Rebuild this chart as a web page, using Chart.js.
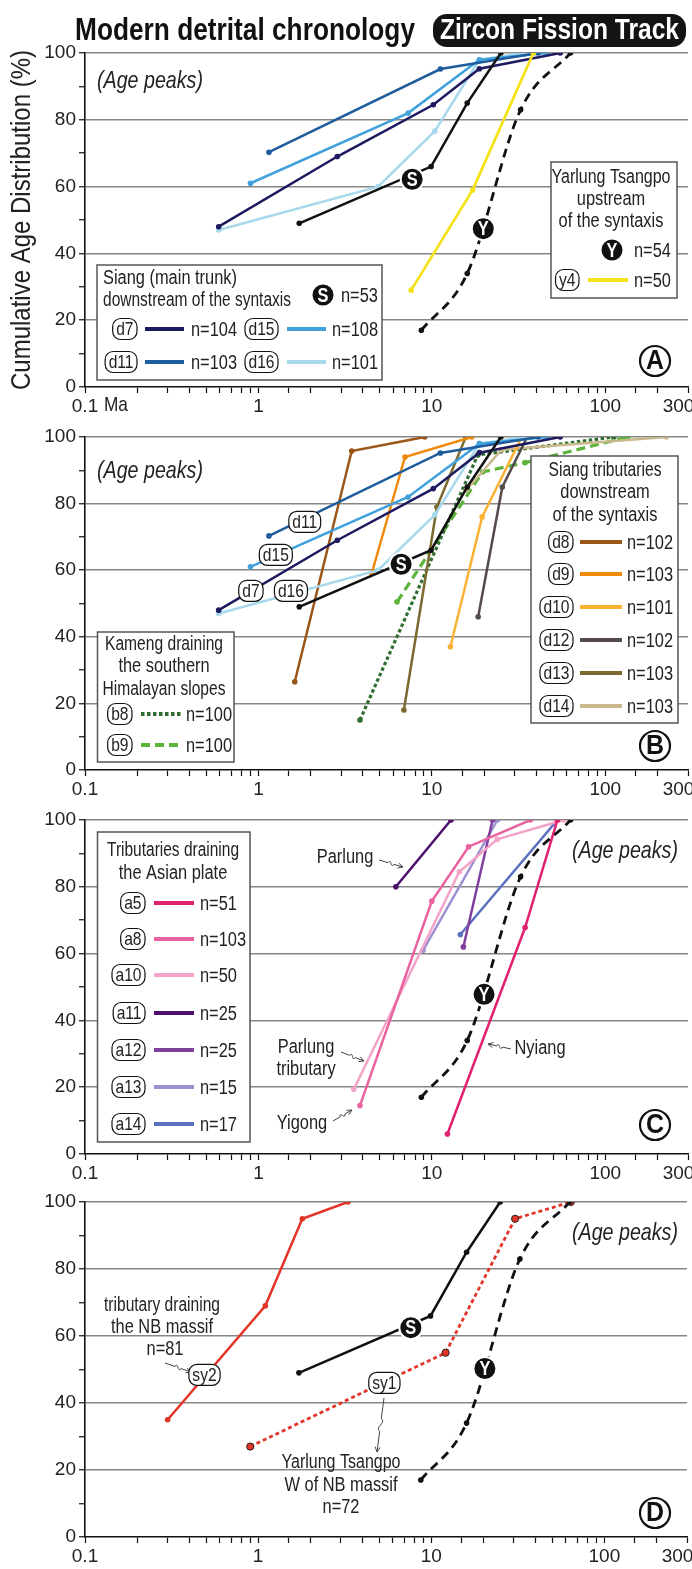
<!DOCTYPE html>
<html>
<head>
<meta charset="utf-8">
<script src="https://cdn.jsdelivr.net/npm/chart.js@4.4.0/dist/chart.umd.min.js"></script>
<style>
html, body { margin: 0; padding: 0; background: #fff; }
#wrap { position: relative; width: 692px; height: 1569px; overflow: hidden; }
canvas { position: absolute; left: 0; }
</style>
</head>
<body>
<div id="wrap">
  <canvas id="panelA" width="692" height="420" style="top:0px"></canvas>
  <canvas id="panelB" width="692" height="380" style="top:420px"></canvas>
  <canvas id="panelC" width="692" height="385" style="top:800px"></canvas>
  <canvas id="panelD" width="692" height="384" style="top:1185px"></canvas>
</div>
<script>
// tick labels
const xTickLabels = [0.1, 1, 10, 100, 300];
const yTickLabels = [0, 20, 40, 60, 80, 100];

// Siang main trunk (S) and Yarlung Tsangpo upstream (Y)
const sAges = [1.72, 9.9, 16, 25];
const sCum = [49, 66, 85, 100];
const yAges = [8.7, 16, 32.5, 63];
const yCum = [17, 34, 83, 100];
const y4Ages = [7.6, 17.2, 38.5];
const y4Cum = [29, 59, 100];

// Siang main trunk samples
const d7Ages = [0.59, 2.85, 10.2, 18.8, 55];
const d7Cum = [48, 69, 84.5, 95.3, 100];
const d11Ages = [1.15, 11.2, 41];
const d11Cum = [70.3, 95.2, 100];
const d15Ages = [0.9, 7.3, 18.8, 46];
const d15Cum = [61, 82, 98, 100];
const d16Ages = [0.59, 4.9, 10.4, 18.8, 35];
const d16Cum = [47, 60, 76.6, 98, 100];

// Siang tributaries
const d8Ages = [1.62, 3.45, 9.1];
const d8Cum = [26.5, 95.8, 100];
const d9Ages = [4.5, 7.0, 17];
const d9Cum = [59, 94, 100];
const d10Ages = [12.8, 19.5, 33];
const d10Cum = [37, 76, 100];
const d12Ages = [18.5, 25.5, 35.5];
const d12Cum = [46, 85, 100];
const d13Ages = [6.9, 10.7, 15.7];
const d13Cum = [18, 79, 100];
const d14Ages = [15.8, 25.2, 225];
const d14Cum = [84, 96.2, 100];

// Kameng
const b8Ages = [3.85, 18.4, 112];
const b8Cum = [15, 94.6, 100];
const b9Ages = [6.3, 19.6, 34.5, 135];
const b9Cum = [50.5, 89.5, 92.3, 100];

// Asian plate tributaries
const a5Ages = [12.3, 34.5, 53];
const a5Cum = [6, 67.8, 100];
const a8Ages = [3.85, 10, 16.3, 37];
const a8Cum = [14.5, 75.7, 92, 100];
const a10Ages = [3.55, 14.4, 23.8, 57.5];
const a10Cum = [19.4, 84.5, 94.2, 100];
const a11Ages = [6.2, 12.9];
const a11Cum = [80, 100];
const a12Ages = [15.2, 22.4];
const a12Cum = [62, 100];
const a13Ages = [8.9, 23.9];
const a13Cum = [61, 100];
const a14Ages = [14.6, 53];
const a14Cum = [65.7, 100];

// Namche Barwa
const sy2Ages = [0.3, 1.1, 1.8, 3.3];
const sy2Cum = [35, 69, 95, 100];
const sy1Ages = [0.9, 12.1, 30.5, 64];
const sy1Cum = [27, 55, 95, 100];

const COL = {
  S: '#111111', Y: '#111111', y4: '#f5e21a',
  d7: '#1d1a5f', d11: '#1f5c9c', d15: '#41a1dc', d16: '#a7d8ec',
  d8: '#9a5519', d9: '#f08a0c', d10: '#fbb133', d12: '#554a4a', d13: '#7b6a2f', d14: '#c9b88c',
  b8: '#2f6e30', b9: '#5db43a',
  a5: '#e1216f', a8: '#ea62a0', a10: '#f4a3c8', a11: '#4d0f6c', a12: '#7f409c', a13: '#9d91d2', a14: '#5b70be',
  sy: '#e3342a'
};

// no narrow face in the sandbox: squeeze Liberation Sans like Arial Narrow
const FAM = '"Liberation Sans", Arial, sans-serif';
const NARROW = 0.82;

function series(label, ages, cum, color, extra) {
  return Object.assign({
    label: label,
    data: ages.map((a, i) => ({ x: a, y: cum[i] })),
    borderColor: color,
    backgroundColor: color,
    pointBackgroundColor: color,
    pointBorderWidth: 0,
    pointRadius: 2.8,
    borderWidth: 2.5,
    tension: 0
  }, extra || {});
}
const dashedY = () => series('Y', yAges, yCum, COL.Y, { borderDash: [9, 6], borderWidth: 2.8, cubicInterpolationMode: 'monotone' });
const solidS = () => series('S', sAges, sCum, COL.S);
const trunk = () => [
  series('d7', d7Ages, d7Cum, COL.d7),
  series('d11', d11Ages, d11Cum, COL.d11),
  series('d15', d15Ages, d15Cum, COL.d15),
  series('d16', d16Ages, d16Cum, COL.d16)
];

// ---------- drawing helpers ----------
function setFont(ctx, o) {
  ctx.font = (o.style || 'normal') + ' ' + (o.weight || 'normal') + ' ' + (o.size || 18) + 'px ' + FAM;
}
function txt(ctx, s, x, y, o) {
  o = o || {};
  ctx.save();
  setFont(ctx, o);
  const raw = ctx.measureText(s).width;
  const k = o.w ? o.w / raw : NARROW;
  ctx.fillStyle = o.color || '#222';
  ctx.textBaseline = 'middle';
  ctx.textAlign = 'left';
  let x0 = x;
  if (o.align === 'center') x0 = x - raw * k / 2;
  if (o.align === 'right') x0 = x - raw * k;
  ctx.translate(x0, y);
  ctx.scale(k, 1);
  ctx.fillText(s, 0, 0);
  ctx.restore();
}
function rrect(ctx, x, y, w, h, r) {
  ctx.beginPath();
  ctx.moveTo(x + r, y);
  ctx.arcTo(x + w, y, x + w, y + h, r);
  ctx.arcTo(x + w, y + h, x, y + h, r);
  ctx.arcTo(x, y + h, x, y, r);
  ctx.arcTo(x, y, x + w, y, r);
  ctx.closePath();
}
function tag(ctx, s, cx, cy, right) {
  ctx.save();
  setFont(ctx, { size: 19 });
  const w = ctx.measureText(s).width * NARROW + 7, h = 21;
  if (right !== undefined) cx = right - w / 2;
  rrect(ctx, cx - w / 2, cy - h / 2, w, h, 8);
  ctx.fillStyle = '#fff';
  ctx.fill();
  ctx.lineWidth = 1.2;
  ctx.strokeStyle = '#111';
  ctx.stroke();
  ctx.restore();
  txt(ctx, s, cx, cy + 1, { size: 19, align: 'center' });
}
function mark(ctx, s, cx, cy) {
  ctx.save();
  ctx.beginPath();
  ctx.arc(cx, cy, 11.5, 0, Math.PI * 2);
  ctx.fillStyle = '#111';
  ctx.fill();
  ctx.lineWidth = 2;
  ctx.strokeStyle = '#fff';
  ctx.stroke();
  ctx.restore();
  txt(ctx, s, cx, cy + 1, { size: 20, weight: 'bold', color: '#fff', align: 'center' });
}
function badge(ctx, s, cx, cy) {
  ctx.save();
  ctx.beginPath();
  ctx.arc(cx, cy, 15, 0, Math.PI * 2);
  ctx.fillStyle = '#fff';
  ctx.fill();
  ctx.lineWidth = 2.2;
  ctx.strokeStyle = '#111';
  ctx.stroke();
  ctx.restore();
  txt(ctx, s, cx, cy + 1, { size: 27, weight: 'bold', color: '#111', align: 'center', w: 18 });
}
function box(ctx, x1, y1, x2, y2) {
  ctx.save();
  ctx.fillStyle = '#fff';
  ctx.fillRect(x1, y1, x2 - x1, y2 - y1);
  ctx.lineWidth = 1.5;
  ctx.strokeStyle = '#555';
  ctx.strokeRect(x1, y1, x2 - x1, y2 - y1);
  ctx.restore();
}
function swatch(ctx, x1, x2, y, color, dash) {
  ctx.save();
  ctx.beginPath();
  ctx.moveTo(x1, y);
  ctx.lineTo(x2, y);
  ctx.lineWidth = 3.8;
  ctx.strokeStyle = color;
  ctx.setLineDash(dash || []);
  ctx.stroke();
  ctx.restore();
}
function squiggle(ctx, x1, y1, x2, y2) {
  const dx = x2 - x1, dy = y2 - y1, len = Math.hypot(dx, dy);
  const nx = -dy / len, ny = dx / len;
  const p = (t, o) => [x1 + dx * t + nx * o, y1 + dy * t + ny * o];
  ctx.save();
  ctx.beginPath();
  ctx.moveTo(x1, y1);
  ctx.lineTo(...p(0.38, 0));
  ctx.bezierCurveTo(...p(0.45, -6), ...p(0.55, 6), ...p(0.62, 0));
  ctx.lineTo(x2, y2);
  ctx.lineWidth = 1;
  ctx.strokeStyle = '#444';
  ctx.stroke();
  const ux = dx / len, uy = dy / len;
  ctx.beginPath();
  ctx.moveTo(x2, y2);
  ctx.lineTo(x2 - ux * 5 + nx * 2.5, y2 - uy * 5 + ny * 2.5);
  ctx.moveTo(x2, y2);
  ctx.lineTo(x2 - ux * 5 - nx * 2.5, y2 - uy * 5 - ny * 2.5);
  ctx.stroke();
  ctx.restore();
}
function legendRow(ctx, L, T, r) {
  tag(ctx, r.tag, L + r.tx, T + r.y, r.tr === undefined ? undefined : L + r.tr);
  swatch(ctx, L + r.x1, L + r.x2, T + r.y, r.color, r.dash);
  txt(ctx, r.n, L + r.nx, T + r.y + 1, { size: 20 });
}
function agePeaks(ctx, x, y, align) {
  txt(ctx, '(Age peaks)', x, y, { size: 24, style: 'italic', align: align || 'left', w: 106 });
}

// ---------- panel decorations ----------
const DECOR = {
  panelA(chart, ctx, a, sx, sy) {
    const L = a.left, T = a.top;
    // title and pill
    txt(ctx, 'Modern detrital chronology', 75, 31, { size: 32, weight: 'bold', color: '#111', w: 340 });
    ctx.save();
    rrect(ctx, 433, 14, 253, 33, 14);
    ctx.fillStyle = '#141414';
    ctx.fill();
    ctx.restore();
    txt(ctx, 'Zircon Fission Track', 559.5, 31, { size: 29, weight: 'bold', color: '#fff', align: 'center', w: 239 });
    // y title
    ctx.save();
    ctx.translate(22, 220);
    ctx.rotate(-Math.PI / 2);
    txt(ctx, 'Cumulative Age Distribution (%)', 0, 0, { size: 28, align: 'center', color: '#222', w: 340 });
    ctx.restore();
    txt(ctx, 'Ma', 104, a.bottom + 18, { size: 21 });
    agePeaks(ctx, L + 12, T + 28);
    mark(ctx, 'S', sx(7.7), sy(62.2));
    mark(ctx, 'Y', sx(19.8), sy(47.4));
    // left legend
    box(ctx, L + 12, T + 212, L + 297, T + 327);
    txt(ctx, 'Siang (main trunk)', L + 18, T + 225, { size: 20 });
    txt(ctx, 'downstream of the syntaxis', L + 18, T + 247, { size: 20, w: 188 });
    mark(ctx, 'S', L + 238, T + 242);
    txt(ctx, 'n=53', L + 256, T + 243, { size: 20 });
    [
      { tag: 'd7', tr: 52, y: 276, x1: 60, x2: 99, color: COL.d7, n: 'n=104', nx: 106 },
      { tag: 'd15', tr: 193, y: 276, x1: 202, x2: 241, color: COL.d15, n: 'n=108', nx: 247 },
      { tag: 'd11', tr: 52, y: 309, x1: 60, x2: 99, color: COL.d11, n: 'n=103', nx: 106 },
      { tag: 'd16', tr: 193, y: 309, x1: 202, x2: 241, color: COL.d16, n: 'n=101', nx: 247 }
    ].forEach(r => legendRow(ctx, L, T, r));
    // right legend
    box(ctx, L + 466, T + 109, L + 592, T + 245);
    txt(ctx, 'Yarlung Tsangpo', L + 526, T + 124, { size: 20, align: 'center', w: 119 });
    txt(ctx, 'upstream', L + 526, T + 146, { size: 20, align: 'center' });
    txt(ctx, 'of the syntaxis', L + 526, T + 168, { size: 20, align: 'center' });
    mark(ctx, 'Y', L + 527, T + 197);
    txt(ctx, 'n=54', L + 549, T + 198, { size: 20 });
    legendRow(ctx, L, T, { tag: 'y4', tr: 494, y: 227, x1: 503, x2: 543, color: COL.y4, n: 'n=50', nx: 549 });
    badge(ctx, 'A', L + 570, T + 308);
  },
  panelB(chart, ctx, a, sx, sy) {
    const L = a.left, T = a.top;
    agePeaks(ctx, L + 12, T + 34);
    tag(ctx, 'd11', sx(1.85), sy(74.5));
    tag(ctx, 'd15', sx(1.26), sy(64.6));
    tag(ctx, 'd7', sx(0.905), sy(53.8));
    tag(ctx, 'd16', sx(1.54), sy(53.8));
    mark(ctx, 'S', sx(6.65), sy(61.8));
    // right legend
    box(ctx, L + 446, T + 19, L + 593, T + 286);
    txt(ctx, 'Siang tributaries', L + 520, T + 33, { size: 20, align: 'center', w: 113 });
    txt(ctx, 'downstream', L + 520, T + 55, { size: 20, align: 'center' });
    txt(ctx, 'of the syntaxis', L + 520, T + 78, { size: 20, align: 'center' });
    const rows = [['d8', 'n=102'], ['d9', 'n=103'], ['d10', 'n=101'], ['d12', 'n=102'], ['d13', 'n=103'], ['d14', 'n=103']];
    const ys = [105, 137, 170, 203, 236, 269];
    rows.forEach((r, i) => legendRow(ctx, L, T, { tag: r[0], tr: 488, y: ys[i], x1: 495, x2: 537, color: COL[r[0]], n: r[1], nx: 542 }));
    // left legend
    box(ctx, L + 12.5, T + 195, L + 149, T + 325);
    txt(ctx, 'Kameng draining', L + 79, T + 207, { size: 20, align: 'center', w: 118 });
    txt(ctx, 'the southern', L + 79, T + 229, { size: 20, align: 'center' });
    txt(ctx, 'Himalayan slopes', L + 79, T + 252, { size: 20, align: 'center', w: 123 });
    legendRow(ctx, L, T, { tag: 'b8', tr: 47, y: 277, x1: 56, x2: 96, color: COL.b8, dash: [3.5, 2.5], n: 'n=100', nx: 101 });
    legendRow(ctx, L, T, { tag: 'b9', tr: 47, y: 308, x1: 56, x2: 96, color: COL.b9, dash: [9, 5], n: 'n=100', nx: 101 });
    badge(ctx, 'B', L + 570, T + 309);
  },
  panelC(chart, ctx, a, sx, sy) {
    const L = a.left, T = a.top;
    agePeaks(ctx, L + 593, T + 31, 'right');
    mark(ctx, 'Y', sx(20), sy(47.8));
    box(ctx, L + 12.5, T + 12, L + 165, T + 322);
    txt(ctx, 'Tributaries draining', L + 88, T + 30, { size: 20, align: 'center', w: 132 });
    txt(ctx, 'the Asian plate', L + 88, T + 53, { size: 20, align: 'center' });
    const rows = [['a5', 'n=51'], ['a8', 'n=103'], ['a10', 'n=50'], ['a11', 'n=25'], ['a12', 'n=25'], ['a13', 'n=15'], ['a14', 'n=17']];
    const ys = [83, 119, 155, 193, 230, 267, 304];
    rows.forEach((r, i) => legendRow(ctx, L, T, { tag: r[0], tr: 60, y: ys[i], x1: 69, x2: 109, color: COL[r[0]], n: r[1], nx: 115 }));
    txt(ctx, 'Parlung', L + 260, T + 37, { size: 20, align: 'center' });
    squiggle(ctx, L + 294, T + 40, L + 318, T + 47);
    txt(ctx, 'Parlung', L + 221, T + 227, { size: 20, align: 'center' });
    txt(ctx, 'tributary', L + 221, T + 249, { size: 20, align: 'center' });
    squiggle(ctx, L + 256, T + 232, L + 279, T + 241);
    txt(ctx, 'Yigong', L + 217, T + 303, { size: 20, align: 'center' });
    squiggle(ctx, L + 248, T + 301, L + 267, T + 290);
    txt(ctx, 'Nyiang', L + 455, T + 228, { size: 20, align: 'center' });
    squiggle(ctx, L + 426, T + 229, L + 403, T + 224);
    badge(ctx, 'C', L + 570, T + 305);
  },
  panelD(chart, ctx, a, sx, sy) {
    const L = a.left, T = a.top;
    agePeaks(ctx, L + 593, T + 31, 'right');
    mark(ctx, 'S', sx(7.62), sy(62.5));
    mark(ctx, 'Y', sx(20.4), sy(50.3));
    txt(ctx, 'tributary draining', L + 77, T + 103, { size: 20, align: 'center', w: 116 });
    txt(ctx, 'the NB massif', L + 77, T + 125, { size: 20, align: 'center' });
    txt(ctx, 'n=81', L + 80, T + 147, { size: 20, align: 'center' });
    squiggle(ctx, L + 80, T + 161, L + 106, T + 170);
    tag(ctx, 'sy2', sx(0.49), sy(48.4));
    tag(ctx, 'sy1', sx(5.36), sy(46));
    squiggle(ctx, L + 299, T + 196, L + 292, T + 250);
    txt(ctx, 'Yarlung Tsangpo', L + 256, T + 260, { size: 20, align: 'center', w: 119 });
    txt(ctx, 'W of NB massif', L + 256, T + 283, { size: 20, align: 'center' });
    txt(ctx, 'n=72', L + 256, T + 305, { size: 20, align: 'center' });
    badge(ctx, 'D', L + 570, T + 311);
  }
};

const decorPlugin = {
  id: 'panelDecor',
  afterDatasetsDraw(chart) {
    const fn = DECOR[chart.canvas.id];
    if (!fn) return;
    const sx = v => chart.scales.x.getPixelForValue(v);
    const sy = v => chart.scales.y.getPixelForValue(v);
    fn(chart, chart.ctx, chart.chartArea, sx, sy);
  }
};

function isTick(v, list) {
  return list.some(t => Math.abs(v - t) < t * 1e-6);
}
function xLabel(v) {
  if (!isTick(v, xTickLabels)) return '';
  const s = String(+v.toPrecision(3));
  // the last label sits a little inside the right edge
  return s === '300' ? s + '\u2003' : s;
}

function makePanel(id, datasets, padTop, axisH) {
  return new Chart(document.getElementById(id), {
    type: 'line',
    data: { datasets: datasets },
    options: {
      responsive: false,
      animation: false,
      devicePixelRatio: 1,
      layout: { padding: { top: padTop, right: 4, left: 0, bottom: 0 } },
      plugins: { legend: { display: false }, tooltip: { enabled: false } },
      scales: {
        x: {
          type: 'logarithmic', min: 0.1, max: 300,
          border: { color: '#111', width: 1.6 },
          grid: { drawOnChartArea: false, drawTicks: true, tickLength: 6, tickColor: '#111', tickWidth: 1.2 },
          ticks: {
            autoSkip: false, maxRotation: 0, minRotation: 0, padding: 2, color: '#222',
            font: { family: FAM, size: 19 },
            callback: v => xLabel(v)
          },
          afterFit: s => { s.height = axisH; s.paddingLeft = 0; s.paddingRight = 0; }
        },
        y: {
          min: 0, max: 100,
          border: { color: '#111', width: 1.6 },
          grid: {
            color: c => (c.tick && c.tick.value > 0 && yTickLabels.includes(c.tick.value)) ? '#868686' : 'rgba(0,0,0,0)',
            lineWidth: 1.5, drawTicks: true, tickLength: 6, tickColor: '#111', tickWidth: 1.2
          },
          ticks: {
            stepSize: 10, padding: 3, color: '#222',
            font: { family: FAM, size: 19 },
            callback: v => yTickLabels.includes(v) ? String(v) : ''
          },
          afterFit: s => { s.width = 85; }
        }
      }
    },
    plugins: [decorPlugin]
  });
}

makePanel('panelA', [
  solidS(), dashedY(),
  series('y4', y4Ages, y4Cum, COL.y4, { borderWidth: 2.8 }),
  ...trunk()
], 53, 33);

makePanel('panelB', [
  solidS(),
  ...trunk(),
  series('d8', d8Ages, d8Cum, COL.d8),
  series('d9', d9Ages, d9Cum, COL.d9),
  series('d10', d10Ages, d10Cum, COL.d10),
  series('d12', d12Ages, d12Cum, COL.d12),
  series('d13', d13Ages, d13Cum, COL.d13),
  series('d14', d14Ages, d14Cum, COL.d14),
  series('b8', b8Ages, b8Cum, COL.b8, { borderDash: [3.5, 2.5], borderWidth: 3.2 }),
  series('b9', b9Ages, b9Cum, COL.b9, { borderDash: [9, 5], borderWidth: 3.2 })
], 17, 30);

makePanel('panelC', [
  dashedY(),
  series('a5', a5Ages, a5Cum, COL.a5),
  series('a8', a8Ages, a8Cum, COL.a8),
  series('a10', a10Ages, a10Cum, COL.a10),
  series('a11', a11Ages, a11Cum, COL.a11),
  series('a12', a12Ages, a12Cum, COL.a12),
  series('a13', a13Ages, a13Cum, COL.a13),
  series('a14', a14Ages, a14Cum, COL.a14)
], 20, 31);

makePanel('panelD', [
  solidS(), dashedY(),
  series('sy2', sy2Ages, sy2Cum, COL.sy),
  series('sy1', sy1Ages, sy1Cum, COL.sy, { borderDash: [4, 3], borderWidth: 2.8, pointRadius: 3.6, pointBorderWidth: 1, pointBorderColor: '#222' })
], 17, 32);
</script>
</body>
</html>
